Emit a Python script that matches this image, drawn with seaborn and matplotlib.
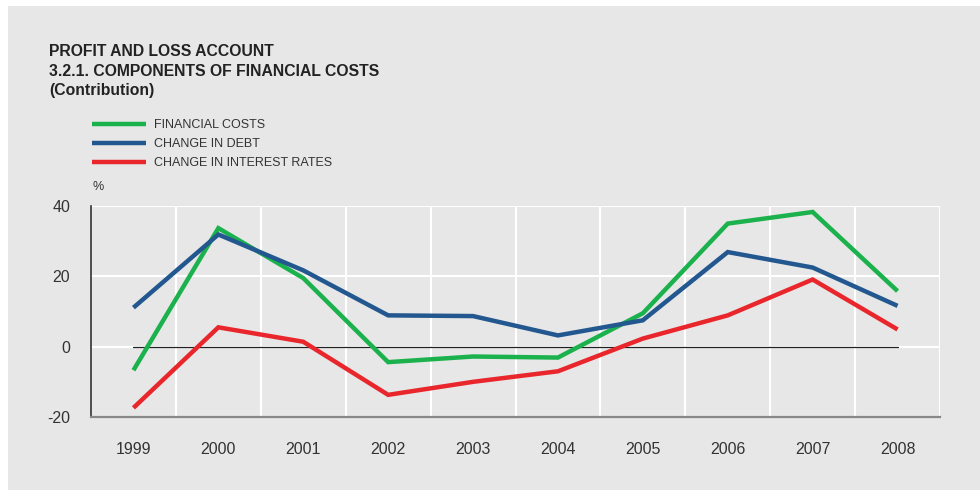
import pandas as pd
import matplotlib.pyplot as plt
import seaborn as sns
from matplotlib.patches import Rectangle
from matplotlib.lines import Line2D

years = ['1999', '2000', '2001', '2002', '2003', '2004', '2005', '2006', '2007', '2008']
financial_costs = [-6.7, 33.7, 19.5, -4.4, -2.8, -3.1, 9.5, 35.0, 38.3, 15.8]
change_in_debt = [11.1, 31.9, 21.7, 8.9, 8.7, 3.2, 7.5, 26.9, 22.5, 11.6]
change_in_rates = [-17.4, 5.5, 1.4, -13.7, -10.0, -7.0, 2.3, 8.9, 19.1, 4.9]

series_names = ['FINANCIAL COSTS', 'CHANGE IN DEBT', 'CHANGE IN INTEREST RATES']
colors = ['#1bb14c', '#22578f', '#e8262b']
bg = '#e6e7e6'

def build_frame():
    rows = []
    for name, vals in zip(series_names, [financial_costs, change_in_debt, change_in_rates]):
        for i, v in enumerate(vals):
            rows.append({'pos': i, 'value': v, 'series': name})
    return pd.DataFrame(rows)

df = build_frame()

sns.set_style('white')
plt.rcParams['font.family'] = ['Liberation Sans', 'DejaVu Sans']
plt.rcParams['axes.unicode_minus'] = False

fig = plt.figure(figsize=(9.8, 4.91), dpi=100, facecolor='white')
# grey panel behind everything
fig.patches.append(Rectangle((8 / 980, 1 - 490 / 491), 972 / 980, 484 / 491,
                             transform=fig.transFigure, facecolor=bg, edgecolor='none', zorder=-10))

ax = fig.add_axes([91 / 980, 1 - 417 / 491, 849 / 980, 211 / 491])
ax.set_facecolor(bg)

sns.lineplot(data=df, x='pos', y='value', hue='series', palette=colors,
             linewidth=3.2, legend=False, ax=ax, zorder=3,
             solid_capstyle='butt', solid_joinstyle='miter')

# zero reference line spanning first to last year
ax.plot([0, len(years) - 1], [0, 0], color='#222222', linewidth=0.9, zorder=2)

ax.set_xlim(-0.5, len(years) - 0.5)
ax.set_ylim(-20, 40)
ax.set_yticks([-20, 0, 20, 40])
ax.set_xticks(range(len(years)))
ax.set_xticklabels(years)
ax.set_xticks([i + 0.5 for i in range(len(years))], minor=True)
ax.grid(False)
ax.grid(axis='y', which='major', color='white', linewidth=1.5, zorder=1)
ax.grid(axis='x', which='minor', color='white', linewidth=1.5, zorder=1)
ax.tick_params(axis='both', which='both', length=0, labelsize=11.5, colors='#333333')
ax.tick_params(axis='x', pad=18)
ax.tick_params(axis='y', pad=15)
ax.set_xlabel('')
ax.set_ylabel('')

for s in ['top', 'right']:
    ax.spines[s].set_visible(False)
ax.spines['left'].set_color('#333333')
ax.spines['left'].set_linewidth(1.2)
ax.spines['bottom'].set_color('#888888')
ax.spines['bottom'].set_linewidth(1.6)

# titles
title_lines = ['PROFIT AND LOSS ACCOUNT', '3.2.1. COMPONENTS OF FINANCIAL COSTS', '(Contribution)']
for y, t in zip([52, 71, 90], title_lines):
    fig.text(49 / 980, 1 - y / 491, t, fontsize=11.3,
             fontweight='bold', color='#222222', va='center')

# legend drawn as manual handles
handles = [Line2D([0], [0], color=c, linewidth=3.2, solid_capstyle='butt') for c in colors]
fig.legend(handles, series_names, loc='upper left', bbox_to_anchor=(86 / 980, 1 - 113 / 491),
           frameon=False, fontsize=9, handlelength=4.3, handletextpad=0.6,
           labelspacing=0.55, borderpad=0, labelcolor='#333333')

fig.text(92 / 980, 1 - 187 / 491, '%', fontsize=9, color='#333333', va='center')

plt.savefig('out.png', dpi=100, facecolor='white')
